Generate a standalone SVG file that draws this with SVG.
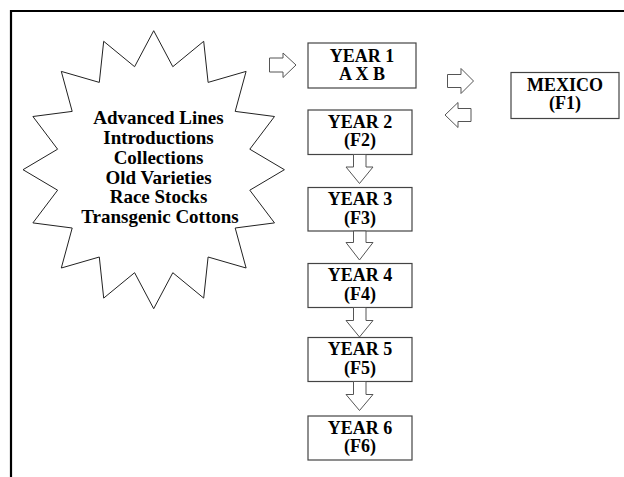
<svg xmlns="http://www.w3.org/2000/svg" width="624" height="477" viewBox="0 0 624 477">
<style>
.frame{fill:none;stroke:#000;stroke-width:2.2}
.star{fill:#fff;stroke:#222;stroke-width:1}
.box{fill:#fff;stroke:#444;stroke-width:1.2}
.arr{fill:#fff;stroke:#555;stroke-width:1}
text{font-family:"Liberation Serif","Times New Roman",serif;font-weight:bold;fill:#000;text-anchor:middle}
.st{font-size:19px}
.bt{font-size:18px}
</style>
<rect width="624" height="477" fill="#fff"/>
<path class="frame" d="M11,478 V11 H625"/>
<g id="sources">
<polygon class="star" points="153.7,30.7 172.8,66.7 203.7,41.3 208.1,82.4 246.1,71.4 235.2,111.4 274.5,116.5 249.8,149.2 284.4,169.7 249.8,190.2 274.5,222.9 235.2,228.0 246.1,268.0 208.1,257.0 203.7,298.1 172.8,272.7 153.7,308.7 134.6,272.7 103.7,298.1 99.3,257.0 61.3,268.0 72.2,228.0 32.9,222.9 57.6,190.2 23.0,169.7 57.6,149.2 32.9,116.5 72.2,111.4 61.3,71.4 99.3,82.4 103.7,41.3 134.6,66.7"/>
<text class="st" x="158.5" y="124">Advanced Lines</text>
<text class="st" x="158.5" y="144">Introductions</text>
<text class="st" x="158.5" y="163.5">Collections</text>
<text class="st" x="158.5" y="183.5">Old Varieties</text>
<text class="st" x="158.5" y="203">Race Stocks</text>
<text class="st" x="160" y="223">Transgenic Cottons</text>
</g>
<g id="year1">
<rect class="box" x="308" y="43" width="108" height="45"/>
<text class="bt" x="362" y="61.5">YEAR 1</text>
<text class="bt" x="362" y="80">A X B</text>
</g>
<g id="mexico">
<rect class="box" x="511" y="72.5" width="108" height="46"/>
<text class="bt" x="565" y="90.5">MEXICO</text>
<text class="bt" x="565" y="109">(F1)</text>
</g>
<g id="year2">
<rect class="box" x="308" y="110" width="104" height="44.5"/>
<text class="bt" x="360" y="127.5">YEAR 2</text>
<text class="bt" x="360" y="146">(F2)</text>
</g>
<g id="year3">
<rect class="box" x="308" y="187.5" width="104" height="43.5"/>
<text class="bt" x="360" y="205">YEAR 3</text>
<text class="bt" x="360" y="223.5">(F3)</text>
</g>
<g id="year4">
<rect class="box" x="308" y="263.5" width="104" height="44"/>
<text class="bt" x="360" y="281">YEAR 4</text>
<text class="bt" x="360" y="299.5">(F4)</text>
</g>
<g id="year5">
<rect class="box" x="308" y="337.5" width="104" height="44"/>
<text class="bt" x="360" y="355">YEAR 5</text>
<text class="bt" x="360" y="373.5">(F5)</text>
</g>
<g id="year6">
<rect class="box" x="308" y="416" width="104" height="44"/>
<text class="bt" x="360" y="433.5">YEAR 6</text>
<text class="bt" x="360" y="452">(F6)</text>
</g>
<g id="connectors">
<polygon class="arr" points="269.5,58 283,58 283,53 296,65 283,77.5 283,72 269.5,72"/>
<polygon class="arr" points="447.5,74.5 461,74.5 461,68.5 473.5,81 461,93.5 461,87.5 447.5,87.5"/>
<polygon class="arr" points="471,108.5 458,108.5 458,102.5 445,115 458,127.5 458,121.5 471,121.5"/>
<polygon class="arr" points="353.5,154.5 366,154.5 366,167 373,167 359.5,183.5 346,167 353.5,167"/>
<polygon class="arr" points="353.5,231 366,231 366,242.5 373,242.5 359.5,260 346,242.5 353.5,242.5"/>
<polygon class="arr" points="353.5,307.5 366,307.5 366,320.5 373,320.5 359.5,337 346,320.5 353.5,320.5"/>
<polygon class="arr" points="353.5,381.5 366,381.5 366,394.5 373,394.5 359.5,410.5 346,394.5 353.5,394.5"/>
</g>
</svg>
